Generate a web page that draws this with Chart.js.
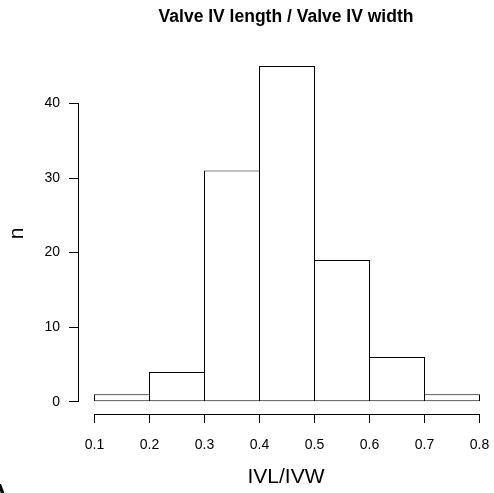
<!DOCTYPE html>
<html>
<head>
<meta charset="utf-8">
<title>Valve IV length / Valve IV width</title>
<script src="https://cdn.jsdelivr.net/npm/chart.js@4/dist/chart.umd.min.js"></script>
<style>
  html, body { margin: 0; padding: 0; background: #fff; }
  #wrap { width: 494px; height: 493px; }
</style>
</head>
<body>
<div id="wrap"><canvas id="hist" width="494" height="493"></canvas></div>
<script>
// histogram bins of IVL/IVW and their counts
const binStarts = [0.1, 0.2, 0.3, 0.4, 0.5, 0.6, 0.7];
const binWidth = 0.1;
const counts = [1, 4, 31, 45, 19, 6, 1];

const xTicks = [0.1, 0.2, 0.3, 0.4, 0.5, 0.6, 0.7, 0.8];
const yTicks = [0, 10, 20, 30, 40];

const FONT = 'Liberation Sans, Arial, Helvetica, sans-serif';
Chart.defaults.font.family = FONT;
Chart.defaults.color = '#000';

const bars = binStarts.map((s, i) => ({ x: s + binWidth / 2, y: counts[i] }));

// base-graphics style axes: lines only span the first to last tick
const axisLines = {
  id: 'axisLines',
  afterDraw(chart) {
    const { ctx, scales: { x, y } } = chart;
    const snap = v => Math.round(v - 0.5) + 0.5;
    ctx.save();
    ctx.strokeStyle = '#000';
    ctx.lineWidth = 1;
    ctx.beginPath();
    const ax = snap(chart.chartArea.left);
    ctx.moveTo(ax, snap(y.getPixelForValue(yTicks[yTicks.length - 1])) - 0.5);
    ctx.lineTo(ax, snap(y.getPixelForValue(yTicks[0])) + 0.5);
    const ay = snap(chart.chartArea.bottom);
    ctx.moveTo(snap(x.getPixelForValue(xTicks[0])) - 0.5, ay);
    ctx.lineTo(snap(x.getPixelForValue(xTicks[xTicks.length - 1])) + 0.5, ay);
    ctx.stroke();

    // panel letter sitting mostly off the bottom-left corner
    ctx.fillStyle = '#000';
    ctx.font = 'bold 26px ' + FONT;
    ctx.textAlign = 'center';
    ctx.textBaseline = 'alphabetic';
    ctx.fillText('A', -1, 502);
    ctx.restore();
  }
};

const PX_PER_N = 7.46;
const ZERO_Y = 401.8;
const AXIS_Y = 414;
const TOP_Y = 53;

new Chart(document.getElementById('hist'), {
  type: 'bar',
  data: {
    datasets: [{
      data: bars,
      backgroundColor: '#fff',
      borderColor: '#000',
      borderWidth: 1,
      borderSkipped: false,
      barPercentage: 56 / 55,
      categoryPercentage: 1
    }]
  },
  options: {
    responsive: false,
    animation: false,
    devicePixelRatio: 1,
    layout: { padding: 0 },
    plugins: {
      legend: { display: false },
      tooltip: { enabled: false },
      title: {
        display: true,
        text: 'Valve IV length / Valve IV width',
        fullSize: false,
        color: '#000',
        font: { family: FONT, size: 17.5, weight: 'bold', lineHeight: 1.2 },
        padding: { top: 6.5, bottom: TOP_Y - 6.5 - 21 }
      }
    },
    scales: {
      x: {
        type: 'linear',
        offset: false,
        min: 0.1 - 16.5 / 550,
        max: 0.1 + 399.5 / 550,
        afterBuildTicks: s => { s.ticks = xTicks.map(v => ({ value: v })); },
        afterFit: s => { s.height = 493 - AXIS_Y; s.paddingLeft = 0; s.paddingRight = 0; },
        border: { display: false },
        grid: { offset: false, drawOnChartArea: false, drawTicks: true, tickLength: 9, color: '#000', lineWidth: 1 },
        ticks: {
          color: '#000',
          padding: 14,
          maxRotation: 0,
          autoSkip: false,
          font: { family: FONT, size: 14 },
          callback: v => Number(v).toFixed(1)
        },
        title: {
          display: true,
          text: 'IVL/IVW',
          color: '#000',
          font: { family: FONT, size: 21, lineHeight: 1.2 },
          padding: { top: 0, bottom: 2.9 }
        }
      },
      y: {
        type: 'linear',
        min: -(AXIS_Y - ZERO_Y) / PX_PER_N,
        max: (ZERO_Y - TOP_Y) / PX_PER_N,
        afterBuildTicks: s => { s.ticks = yTicks.map(v => ({ value: v })); },
        afterFit: s => { s.width = 78; s.paddingTop = 0; s.paddingBottom = 0; },
        border: { display: false },
        grid: { drawOnChartArea: false, drawTicks: true, tickLength: 9, color: '#000', lineWidth: 1 },
        ticks: {
          color: '#000',
          padding: 9,
          autoSkip: false,
          font: { family: FONT, size: 14 },
          callback: v => String(v)
        },
        title: {
          display: true,
          text: 'n',
          color: '#000',
          font: { family: FONT, size: 21, lineHeight: 1.2 },
          padding: { top: 4.4, bottom: 0 }
        }
      }
    }
  },
  plugins: [axisLines]
});
</script>
</body>
</html>
